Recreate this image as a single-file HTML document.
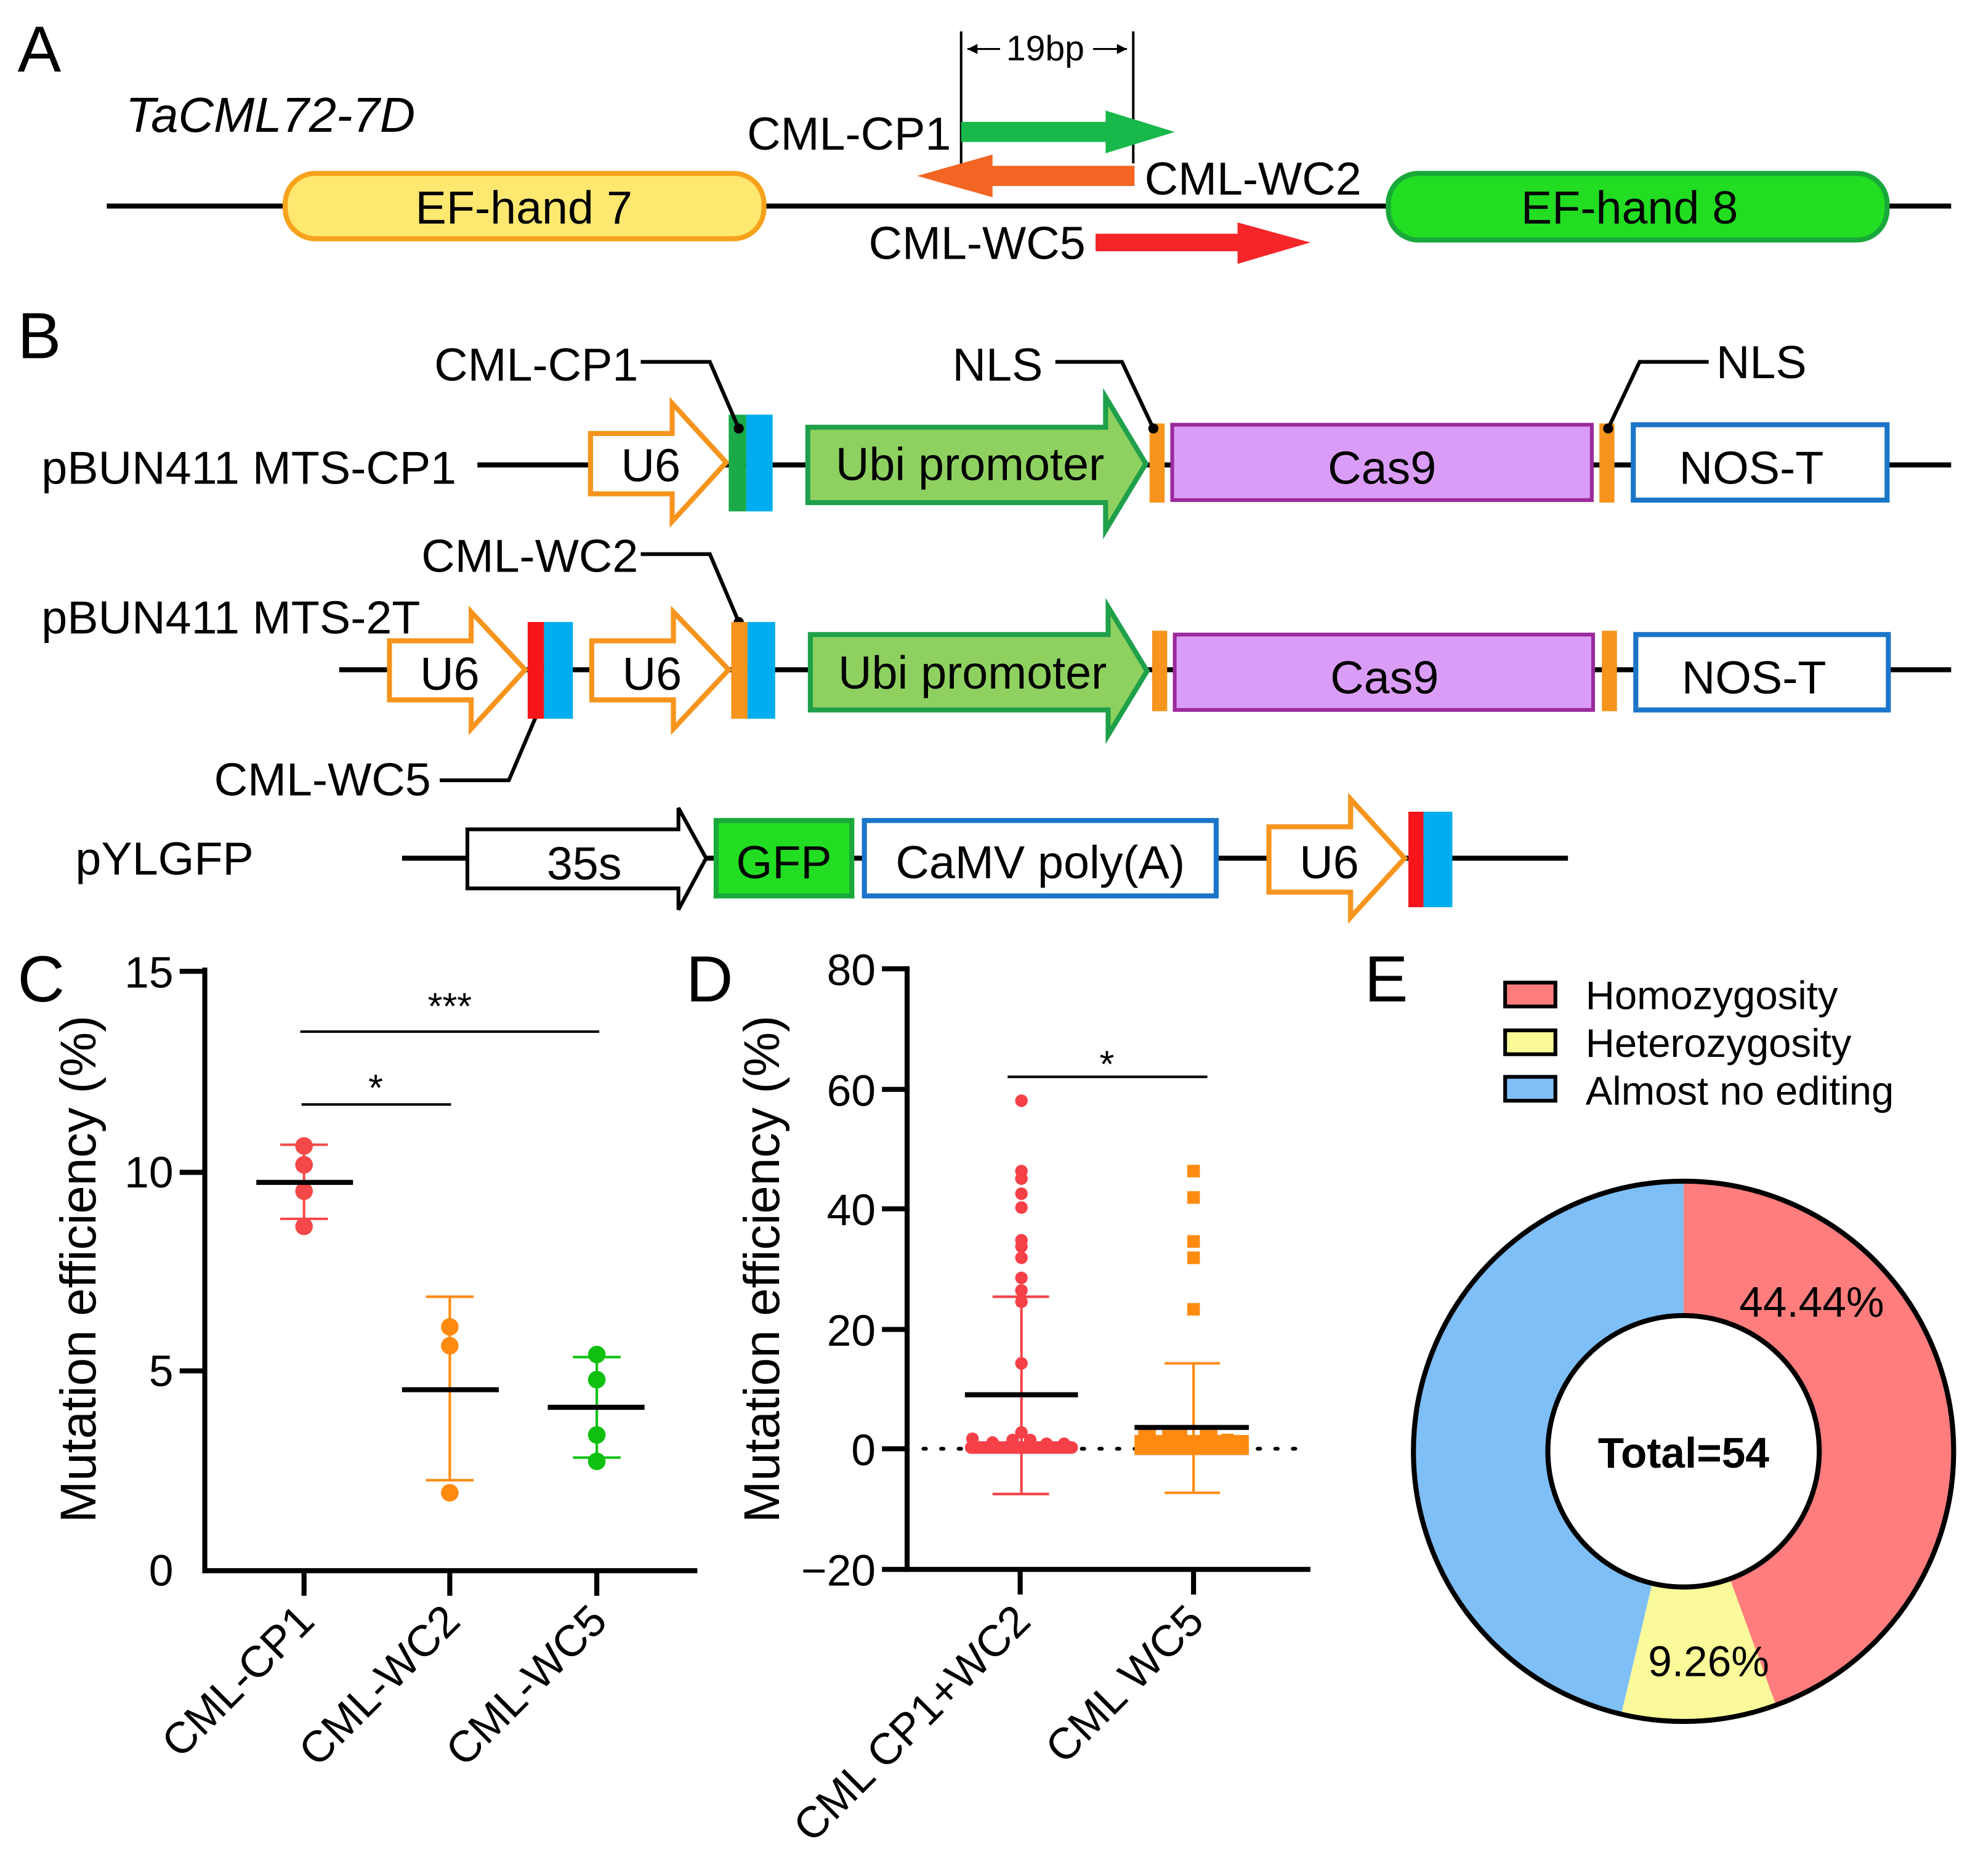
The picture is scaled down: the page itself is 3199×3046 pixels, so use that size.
<!DOCTYPE html>
<html><head><meta charset="utf-8"><style>html,body{margin:0;padding:0;background:#fff}svg{display:block}text{font-family:"Liberation Sans",Arial,sans-serif}</style></head>
<body>
<svg width="3199" height="3046" viewBox="0 0 1568 1493" preserveAspectRatio="none" xmlns="http://www.w3.org/2000/svg">
<rect width="1568" height="1493" fill="#fff"/>
<!-- A -->
<text x="14" y="57" font-size="52">A</text>
<text x="100" y="105" font-size="39" font-style="italic">TaCML72-7D</text>
<line x1="85" y1="164" x2="1553" y2="164" stroke="#000" stroke-width="4"/>
<rect x="227" y="138" width="381" height="52" rx="24" fill="#ffe870" stroke="#f7a21b" stroke-width="4"/>
<text x="417" y="178" font-size="37" text-anchor="middle">EF-hand 7</text>
<rect x="1105" y="138" width="397" height="53" rx="24" fill="#22dd22" stroke="#19a83a" stroke-width="4"/>
<text x="1297" y="178" font-size="37" text-anchor="middle">EF-hand 8</text>
<line x1="765" y1="25" x2="765" y2="138" stroke="#000" stroke-width="2"/>
<line x1="902" y1="25" x2="902" y2="130" stroke="#000" stroke-width="2"/>
<text x="832" y="48" font-size="28" text-anchor="middle">19bp</text>
<line x1="770" y1="39" x2="796" y2="39" stroke="#000" stroke-width="1.5"/><polygon points="770,39 778,35 778,43" fill="#000"/>
<line x1="870" y1="39" x2="897" y2="39" stroke="#000" stroke-width="1.5"/><polygon points="897,39 889,35 889,43" fill="#000"/>
<polygon points="765,97 880,97 880,88 935,105 880,122 880,113 765,113" fill="#18b84a"/>
<text x="757" y="119" font-size="37" text-anchor="end">CML-CP1</text>
<polygon points="903,132 790,132 790,123 730,140 790,157 790,148 903,148" fill="#f26522"/>
<text x="911" y="155" font-size="37">CML-WC2</text>
<polygon points="872,186 985,186 985,177 1043,193 985,210 985,200 872,200" fill="#f5262a"/>
<text x="864" y="206" font-size="37" text-anchor="end">CML-WC5</text>
<!-- B -->
<text x="14" y="285" font-size="52">B</text>
<g font-size="37">
<text x="33" y="385">pBUN411 MTS-CP1</text>
<text x="33" y="504">pBUN411 MTS-2T</text>
<text x="60" y="696">pYLGFP</text>
</g>
<!-- row1 -->
<line x1="380" y1="370" x2="1553" y2="370" stroke="#000" stroke-width="4"/>
<polygon points="470,345 535,345 535,321 578,368 535,415 535,393 470,393" fill="#fff" stroke="#f7941d" stroke-width="4"/>
<text x="518" y="383" font-size="37" text-anchor="middle">U6</text>
<rect x="580" y="330" width="14" height="77" fill="#1aaa4a"/><rect x="594" y="330" width="21" height="77" fill="#00aeef"/>
<polygon points="643,340 880,340 880,316 912,369 880,422 880,400 643,400" fill="#8fd160" stroke="#1fa04a" stroke-width="4"/>
<text x="772" y="382" font-size="37" text-anchor="middle">Ubi promoter</text>
<rect x="915" y="337" width="12" height="63" fill="#f7941d"/>
<rect x="933" y="338" width="334" height="60" fill="#da9df7" stroke="#9b2a9b" stroke-width="3"/>
<text x="1100" y="385" font-size="37" text-anchor="middle">Cas9</text>
<rect x="1273" y="337" width="12" height="63" fill="#f7941d"/>
<rect x="1300" y="338" width="202" height="60" fill="#fff" stroke="#1b75c9" stroke-width="4"/>
<text x="1394" y="385" font-size="37" text-anchor="middle">NOS-T</text>
<g stroke="#000" stroke-width="3" fill="none">
<polyline points="510,288 565,288 588,341"/>
<polyline points="840,288 893,288 918,341"/>
<polyline points="1360,288 1305,288 1280,341"/>
<polyline points="510,441 565,441 588,495"/>
<polyline points="350,621 405,621 428,567"/>
</g>
<g fill="#000"><circle cx="588" cy="341" r="4"/><circle cx="918" cy="341" r="4"/><circle cx="1280" cy="341" r="4"/><circle cx="588" cy="495" r="4"/><circle cx="428" cy="567" r="4"/></g>
<g font-size="37">
<text x="508" y="303" text-anchor="end">CML-CP1</text>
<text x="830" y="303" text-anchor="end">NLS</text>
<text x="1366" y="301">NLS</text>
<text x="508" y="455" text-anchor="end">CML-WC2</text>
<text x="343" y="633" text-anchor="end">CML-WC5</text>
</g>
<!-- row2 -->
<line x1="270" y1="533" x2="1553" y2="533" stroke="#000" stroke-width="4"/>
<polygon points="310,510 375,510 375,487 418,533 375,580 375,557 310,557" fill="#fff" stroke="#f7941d" stroke-width="4"/>
<text x="358" y="549" font-size="37" text-anchor="middle">U6</text>
<rect x="420" y="495" width="13" height="77" fill="#f5151a"/><rect x="433" y="495" width="23" height="77" fill="#00aeef"/>
<polygon points="471,510 536,510 536,487 580,533 536,580 536,557 471,557" fill="#fff" stroke="#f7941d" stroke-width="4"/>
<text x="519" y="549" font-size="37" text-anchor="middle">U6</text>
<rect x="582" y="495" width="13" height="77" fill="#f7941d"/><rect x="595" y="495" width="22" height="77" fill="#00aeef"/>
<polygon points="645,505 882,505 882,483 913,534 882,585 882,565 645,565" fill="#8fd160" stroke="#1fa04a" stroke-width="4"/>
<text x="774" y="548" font-size="37" text-anchor="middle">Ubi promoter</text>
<rect x="917" y="502" width="12" height="64" fill="#f7941d"/>
<rect x="935" y="505" width="333" height="60" fill="#da9df7" stroke="#9b2a9b" stroke-width="3"/>
<text x="1102" y="552" font-size="37" text-anchor="middle">Cas9</text>
<rect x="1275" y="502" width="12" height="64" fill="#f7941d"/>
<rect x="1302" y="505" width="201" height="60" fill="#fff" stroke="#1b75c9" stroke-width="4"/>
<text x="1396" y="552" font-size="37" text-anchor="middle">NOS-T</text>
<!-- row3 -->
<line x1="320" y1="683" x2="1248" y2="683" stroke="#000" stroke-width="4"/>
<polygon points="372,660 540,660 540,643 562,683 540,724 540,707 372,707" fill="#fff" stroke="#000" stroke-width="3"/>
<text x="465" y="700" font-size="37" text-anchor="middle">35s</text>
<rect x="570" y="653" width="108" height="60" fill="#22dd22" stroke="#19a83a" stroke-width="4"/>
<text x="624" y="699" font-size="37" text-anchor="middle">GFP</text>
<rect x="688" y="653" width="280" height="60" fill="#fff" stroke="#1b75c9" stroke-width="4"/>
<text x="828" y="699" font-size="37" text-anchor="middle">CaMV poly(A)</text>
<polygon points="1010,658 1075,658 1075,636 1118,683 1075,730 1075,710 1010,710" fill="#fff" stroke="#f7941d" stroke-width="4"/>
<text x="1058" y="699" font-size="37" text-anchor="middle">U6</text>
<rect x="1121" y="646" width="12" height="76" fill="#f5151a"/><rect x="1133" y="646" width="23" height="76" fill="#00aeef"/>
<!-- C -->
<text x="14" y="797" font-size="52">C</text>
<text transform="translate(76,1010) rotate(-90)" font-size="40" text-anchor="middle">Mutation efficiency (%)</text>
<g stroke="#000" stroke-width="4">
<line x1="163" y1="770" x2="163" y2="1252"/><line x1="161" y1="1250" x2="555" y2="1250"/>
<line x1="143" y1="773" x2="163" y2="773"/><line x1="143" y1="933" x2="163" y2="933"/><line x1="143" y1="1091" x2="163" y2="1091"/>
<line x1="242" y1="1250" x2="242" y2="1270"/><line x1="358" y1="1250" x2="358" y2="1270"/><line x1="475" y1="1250" x2="475" y2="1270"/>
</g>
<g font-size="35" text-anchor="end"><text x="138" y="786">15</text><text x="138" y="945">10</text><text x="138" y="1103">5</text><text x="138" y="1262">0</text></g>
<g font-size="35" text-anchor="end">
<text transform="translate(252,1292) rotate(-45)">CML-CP1</text>
<text transform="translate(368,1292) rotate(-45)">CML-WC2</text>
<text transform="translate(485,1292) rotate(-45)">CML-WC5</text>
</g>
<g stroke="#000" stroke-width="2"><line x1="239" y1="821" x2="477" y2="821"/><line x1="240" y1="879" x2="359" y2="879"/></g>
<text x="358" y="811" font-size="30" text-anchor="middle">***</text>
<text x="299" y="876" font-size="30" text-anchor="middle">*</text>
<g stroke="#f54848" stroke-width="2"><line x1="242" y1="911" x2="242" y2="970"/><line x1="223" y1="911" x2="261" y2="911"/><line x1="223" y1="970" x2="261" y2="970"/></g>
<g fill="#f54848"><circle cx="242" cy="912" r="7"/><circle cx="242" cy="927" r="7"/><circle cx="242" cy="948" r="7"/><circle cx="242" cy="976" r="7"/></g>
<line x1="204" y1="941" x2="281" y2="941" stroke="#000" stroke-width="4"/>
<g stroke="#ff8a10" stroke-width="2"><line x1="358" y1="1032" x2="358" y2="1178"/><line x1="339" y1="1032" x2="377" y2="1032"/><line x1="339" y1="1178" x2="377" y2="1178"/></g>
<g fill="#ff8a10"><circle cx="358" cy="1056" r="7"/><circle cx="358" cy="1071" r="7"/><circle cx="358" cy="1188" r="7"/></g>
<line x1="320" y1="1106" x2="397" y2="1106" stroke="#000" stroke-width="4"/>
<g stroke="#10c010" stroke-width="2"><line x1="475" y1="1080" x2="475" y2="1160"/><line x1="456" y1="1080" x2="494" y2="1080"/><line x1="456" y1="1160" x2="494" y2="1160"/></g>
<g fill="#10c010"><circle cx="475" cy="1078" r="7"/><circle cx="475" cy="1098" r="7"/><circle cx="475" cy="1142" r="7"/><circle cx="475" cy="1163" r="7"/></g>
<line x1="436" y1="1120" x2="513" y2="1120" stroke="#000" stroke-width="4"/>
<!-- D -->
<text x="546" y="797" font-size="52">D</text>
<text transform="translate(620,1010) rotate(-90)" font-size="40" text-anchor="middle">Mutation efficiency (%)</text>
<g stroke="#000" stroke-width="4">
<line x1="722" y1="769" x2="722" y2="1251"/><line x1="720" y1="1249" x2="1043" y2="1249"/>
<line x1="702" y1="771" x2="722" y2="771"/><line x1="702" y1="867" x2="722" y2="867"/><line x1="702" y1="962" x2="722" y2="962"/><line x1="702" y1="1058" x2="722" y2="1058"/><line x1="702" y1="1153" x2="722" y2="1153"/><line x1="702" y1="1249" x2="722" y2="1249"/>
<line x1="812" y1="1249" x2="812" y2="1269"/><line x1="950" y1="1249" x2="950" y2="1269"/>
</g>
<g font-size="35" text-anchor="end"><text x="697" y="784">80</text><text x="697" y="880">60</text><text x="697" y="975">40</text><text x="697" y="1071">20</text><text x="697" y="1166">0</text><text x="697" y="1262">−20</text></g>
<g font-size="35" text-anchor="end">
<text transform="translate(822,1292) rotate(-45)">CML CP1+WC2</text>
<text transform="translate(960,1292) rotate(-45)">CML WC5</text>
</g>
<line x1="735" y1="1153" x2="1042" y2="1153" stroke="#000" stroke-width="3" stroke-dasharray="2 12" stroke-linecap="round"/>
<line x1="802" y1="857" x2="961" y2="857" stroke="#000" stroke-width="2"/>
<text x="881" y="857" font-size="30" text-anchor="middle">*</text>
<g stroke="#f54048" stroke-width="2"><line x1="813" y1="1032" x2="813" y2="1189"/><line x1="790" y1="1032" x2="835" y2="1032"/><line x1="790" y1="1189" x2="835" y2="1189"/></g>
<g fill="#f54048">
<circle cx="813" cy="876" r="5"/><circle cx="813" cy="932" r="5"/><circle cx="813" cy="938" r="5"/><circle cx="813" cy="950" r="5"/><circle cx="813" cy="961" r="5"/><circle cx="813" cy="987" r="5"/><circle cx="813" cy="992" r="5"/><circle cx="813" cy="1001" r="5"/><circle cx="813" cy="1017" r="5"/><circle cx="813" cy="1027" r="5"/><circle cx="813" cy="1036" r="5"/><circle cx="813" cy="1085" r="5"/><circle cx="813" cy="1140" r="5"/>
<rect x="768" y="1147" width="90" height="10" rx="5"/>
<circle cx="774" cy="1145" r="5"/><circle cx="790" cy="1148" r="5"/><circle cx="806" cy="1146" r="5"/><circle cx="820" cy="1146" r="5"/><circle cx="833" cy="1149" r="5"/><circle cx="847" cy="1149" r="5"/>
</g>
<line x1="768" y1="1110" x2="858" y2="1110" stroke="#000" stroke-width="4"/>
<g stroke="#ff8a10" stroke-width="2"><line x1="950" y1="1085" x2="950" y2="1188"/><line x1="927" y1="1085" x2="971" y2="1085"/><line x1="927" y1="1188" x2="971" y2="1188"/></g>
<g fill="#ff8a10">
<rect x="945" y="927" width="10" height="10"/><rect x="945" y="948" width="10" height="10"/><rect x="945" y="983" width="10" height="10"/><rect x="945" y="996" width="10" height="10"/><rect x="945" y="1037" width="10" height="10"/>
<rect x="903" y="1142" width="91" height="16"/><rect x="906" y="1136" width="14" height="8"/><rect x="925" y="1138" width="20" height="6"/><rect x="955" y="1138" width="14" height="6"/><rect x="972" y="1141" width="10" height="4"/>
</g>
<line x1="903" y1="1136" x2="994" y2="1136" stroke="#000" stroke-width="4"/>
<!-- E -->
<text x="1086" y="797" font-size="52">E</text>
<g stroke="#000" stroke-width="3">
<rect x="1198" y="782" width="40" height="19" fill="#ff7d7d"/>
<rect x="1198" y="820" width="40" height="19" fill="#fafa96"/>
<rect x="1198" y="857" width="40" height="19" fill="#7fbff7"/>
</g>
<g font-size="32"><text x="1262" y="803">Homozygosity</text><text x="1262" y="841">Heterozygosity</text><text x="1262" y="879">Almost no editing</text></g>
<path d="M1340,940 A215,215 0 0 1 1413.5,1357 L1376.9,1256.5 A108,108 0 0 0 1340,1047 Z" fill="#ff7d7d"/>
<path d="M1413.5,1357 A215,215 0 0 1 1290.4,1364.2 L1315.1,1260.1 A108,108 0 0 0 1376.9,1256.5 Z" fill="#fafa9a"/>
<path d="M1290.4,1364.2 A215,215 0 0 1 1340,940 L1340,1047 A108,108 0 0 0 1315.1,1260.1 Z" fill="#7fbff7"/>
<circle cx="1340" cy="1155" r="215" fill="none" stroke="#000" stroke-width="4"/>
<circle cx="1340" cy="1155" r="108" fill="#fff" stroke="#000" stroke-width="4"/>
<text x="1442" y="1048" font-size="34" text-anchor="middle">44.44%</text>
<text x="1360" y="1334" font-size="34" text-anchor="middle">9.26%</text>
<text x="1340" y="1168" font-size="34" font-weight="bold" text-anchor="middle">Total=54</text>
</svg>
</body></html>
